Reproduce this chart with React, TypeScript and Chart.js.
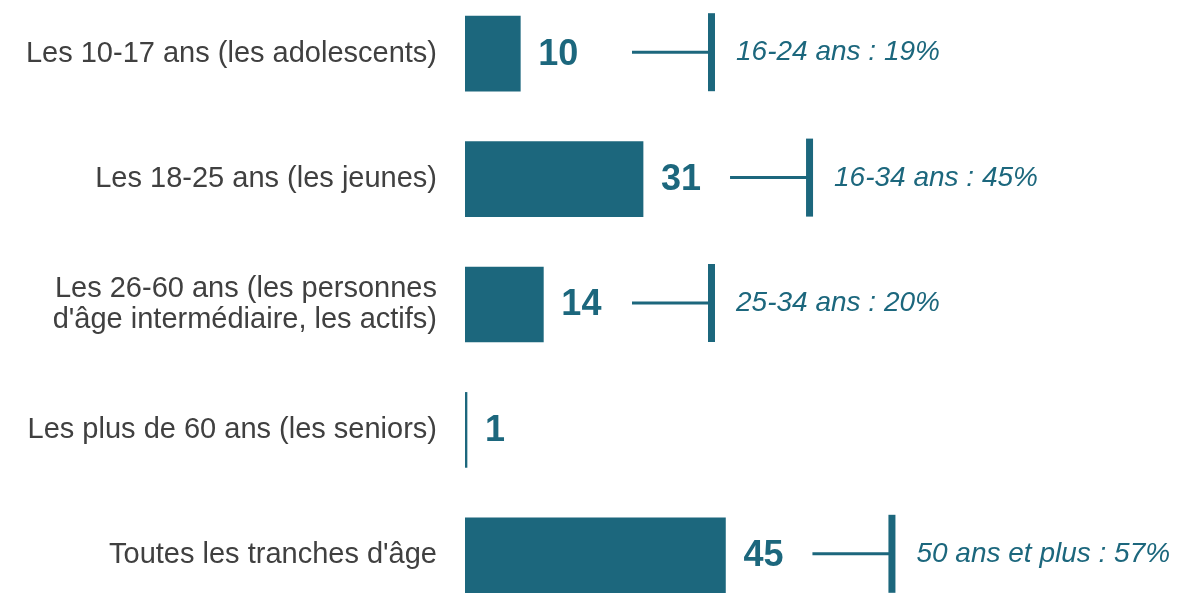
import React, { useEffect, useRef } from "react";
import { Chart, registerables } from "chart.js";

Chart.register(...registerables);

const categories: (string | string[])[] = [
  "Les 10-17 ans (les adolescents)",
  "Les 18-25 ans (les jeunes)",
  ["Les 26-60 ans (les personnes", "d'âge intermédiaire, les actifs)"],
  "Les plus de 60 ans (les seniors)",
  "Toutes les tranches d'âge",
];
const barValues = [9.6, 30.9, 13.6, 0.35, 45.2];
const valueLabels = ["10", "31", "14", "1", "45"];
const comparisons: (string | null)[] = [
  "16-24 ans : 19%",
  "16-34 ans : 45%",
  "25-34 ans : 20%",
  null,
  "50 ans et plus : 57%",
];

const TEAL = "#1c677d";
const FONT = "'Liberation Sans', Arial, sans-serif";

const annotationPlugin = {
  id: "valueAnnotations",
  afterDatasetsDraw(chart: any) {
    const ctx = chart.ctx;
    const meta = chart.getDatasetMeta(0);
    const area = chart.chartArea;
    ctx.save();
    meta.data.forEach((bar: any, i: number) => {
      const x = bar.x;
      const y = bar.y;
      const h = bar.height;
      ctx.fillStyle = TEAL;
      ctx.font = `bold 36px ${FONT}`;
      ctx.textAlign = "left";
      ctx.textBaseline = "middle";
      ctx.fillText(valueLabels[i], x + 18, y + 1);
      const note = comparisons[i];
      if (!note) return;
      const start = Math.max(x + 87, area.left + 167);
      ctx.strokeStyle = TEAL;
      ctx.lineWidth = 3;
      ctx.beginPath();
      ctx.moveTo(start, y - 1.5);
      ctx.lineTo(start + 80, y - 1.5);
      ctx.stroke();
      ctx.fillRect(start + 76, y - h / 2 - 3, 7, h + 3);
      ctx.font = `italic 28px ${FONT}`;
      ctx.fillText(note, start + 104, y - 1);
    });
    ctx.restore();
  },
};

export default function App() {
  const canvasRef = useRef<HTMLCanvasElement | null>(null);

  useEffect(() => {
    if (!canvasRef.current) return;
    const chart = new Chart(canvasRef.current, {
      type: "bar",
      data: {
        labels: categories,
        datasets: [
          {
            data: barValues,
            backgroundColor: TEAL,
            borderWidth: 0,
            barThickness: 75,
          },
        ],
      },
      options: {
        indexAxis: "y",
        responsive: false,
        animation: false,
        layout: { padding: 0 },
        plugins: {
          legend: { display: false },
          tooltip: { enabled: false },
        },
        scales: {
          x: {
            display: false,
            min: 0,
            max: 126,
          },
          y: {
            grid: { display: false, drawTicks: true, tickLength: 28 },
            border: { display: false },
            afterFit: (scale: any) => {
              scale.width = 465;
              scale.paddingTop = 0;
              scale.paddingBottom = 0;
            },
            ticks: {
              padding: 0,
              color: "#404040",
              font: { family: FONT, size: 29, lineHeight: 1.07 },
            },
          },
        },
      },
      plugins: [annotationPlugin],
    });
    return () => chart.destroy();
  }, []);

  return (
    <div
      style={{
        position: "fixed",
        left: 0,
        top: 0,
        width: 1191,
        height: 593,
        overflow: "hidden",
        background: "#ffffff",
      }}
    >
      <canvas
        ref={canvasRef}
        width={1191}
        height={627}
        style={{ position: "absolute", left: 0, top: -9, width: 1191, height: 627 }}
      />
    </div>
  );
}
